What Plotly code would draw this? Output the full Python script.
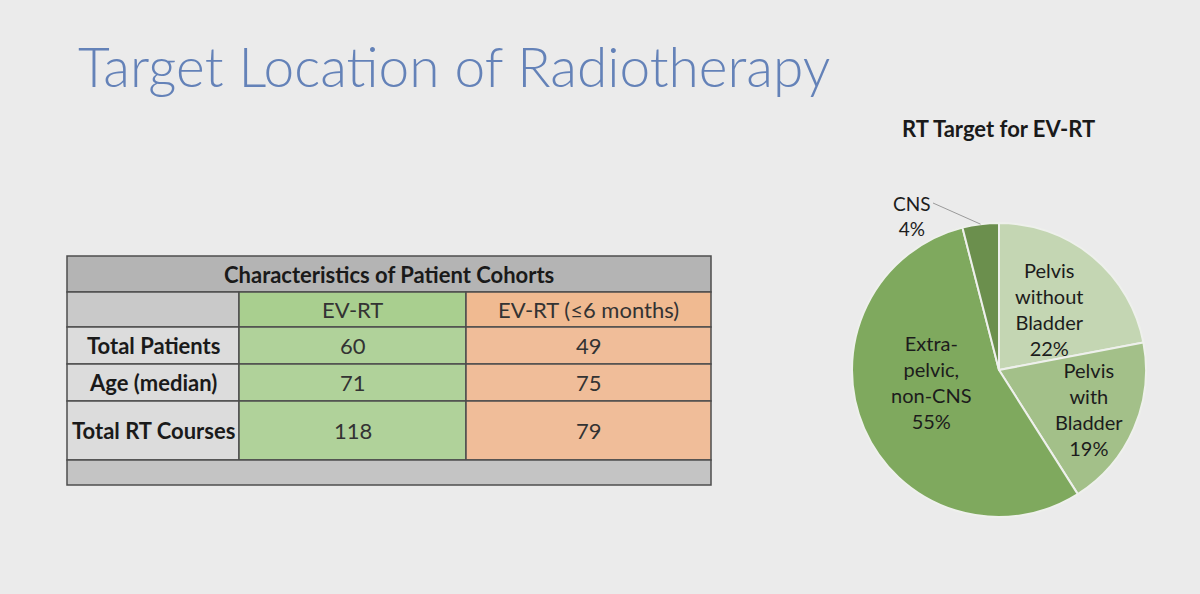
import math
import plotly.graph_objects as go

# ---------------- data ----------------
slide_title = "Target Location of Radiotherapy"
table_title = "Characteristics of Patient Cohorts"
col_headers = ["EV-RT", "EV-RT (≤6 months)"]
row_labels = ["Total Patients", "Age (median)", "Total RT Courses"]
ev_rt = [60, 71, 118]
ev_rt_6m = [49, 75, 79]

pie_title = "RT Target for EV-RT"
pie_labels = ["Pelvis<br>without<br>Bladder", "Pelvis<br>with<br>Bladder",
              "Extra-<br>pelvic,<br>non-CNS", "CNS"]
pie_values = [22, 19, 55, 4]
pie_colors = ["#c4d6b3", "#a3c089", "#7fa95e", "#6b8f4d"]

W, H = 1200, 594
BG = "#ebebeb"
FONT = "Lato"


def px(x):
    return x / W


def py(y):
    return 1 - y / H


fig = go.Figure()

# ---------------- pie ----------------
pie_x0, pie_x1, pie_y0, pie_y1 = 852, 1146, 223, 517
fig.add_trace(go.Pie(
    labels=pie_labels, values=pie_values, sort=False, direction="clockwise",
    rotation=0, marker=dict(colors=pie_colors, line=dict(color="#eef0ec", width=2)),
    textinfo="none",
    domain=dict(x=[px(pie_x0), px(pie_x1)], y=[py(pie_y1), py(pie_y0)]),
    showlegend=False, hoverinfo="label+percent",
))

# slice labels placed from slice geometry
cx, cy = (pie_x0 + pie_x1) / 2, (pie_y0 + pie_y1) / 2
r = (pie_x1 - pie_x0) / 2
total = sum(pie_values)
label_radius = [0.54, 0.67, 0.47]   # fraction of radius for inside labels
label_shift = [0, 0, 13]            # extra angle (deg) for readability
cum = 0
for i, v in enumerate(pie_values):
    frac = v / total
    mid = (cum + frac / 2) * 2 * math.pi
    cum += frac
    pct = round(100 * frac)
    if i < 3:
        a = mid + math.radians(label_shift[i])
        lx = cx + label_radius[i] * r * math.sin(a)
        ly = cy - label_radius[i] * r * math.cos(a)
        fig.add_annotation(x=px(lx), y=py(ly), xref="paper", yref="paper",
                           xanchor="center", yanchor="middle", showarrow=False,
                           text=f"{pie_labels[i]}<br>{pct}%",
                           font=dict(family=FONT, size=20, color="#1c1c1c"))
    else:
        ex, ey = cx + r * math.sin(mid), cy - r * math.cos(mid)
        fig.add_annotation(x=px(912), y=py(216), xref="paper", yref="paper",
                           xanchor="center", yanchor="middle",
                           text=f"{pie_labels[i]}<br>{pct}%", showarrow=False,
                           font=dict(family=FONT, size=19, color="#1c1c1c"))
        fig.add_shape(type="line", xref="paper", yref="paper",
                      x0=px(933), y0=py(203), x1=px(ex), y1=py(ey),
                      line=dict(color="#9a9a9a", width=1))

fig.add_annotation(x=px(998), y=py(128), xref="paper", yref="paper",
                   xanchor="center", yanchor="middle",
                   text=f"<b>{pie_title}</b>", showarrow=False,
                   font=dict(family=FONT, size=22, color="#1a1a1a"))

# ---------------- slide title ----------------
fig.add_annotation(x=px(76), y=py(66), xref="paper", yref="paper",
                   xanchor="left", yanchor="middle",
                   text=slide_title, showarrow=False,
                   font=dict(family=FONT, size=55, color="#6482b8", weight=300))

# ---------------- table ----------------
col_x = [67, 239, 466, 711]
row_y = [256, 292, 327, 364, 401, 460, 485]
line_c = "#4d4d4d"


def rect(x0, y0, x1, y1, fill):
    fig.add_shape(type="rect", xref="paper", yref="paper",
                  x0=px(x0), x1=px(x1), y0=py(y1), y1=py(y0),
                  fillcolor=fill, line=dict(color=line_c, width=1.5), layer="below")


def txt(x, y, s, bold=False, size=22, color="#262626"):
    fig.add_annotation(x=px(x), y=py(y), xref="paper", yref="paper", text=s,
                       xanchor="center", yanchor="middle", showarrow=False,
                       font=dict(family=FONT, size=size, color=color,
                                 weight=700 if bold else 400))


# title row
rect(col_x[0], row_y[0], col_x[3], row_y[1], "#b4b4b4")
txt((col_x[0] + col_x[3]) / 2, (row_y[0] + row_y[1]) / 2, table_title, bold=True, color="#1a1a1a")
# header row
rect(col_x[0], row_y[1], col_x[1], row_y[2], "#c9c9c9")
rect(col_x[1], row_y[1], col_x[2], row_y[2], "#a9cf8f")
rect(col_x[2], row_y[1], col_x[3], row_y[2], "#f0ba91")
for j, h in enumerate(col_headers):
    txt((col_x[j + 1] + col_x[j + 2]) / 2, (row_y[1] + row_y[2]) / 2, h, color="#333333")
# body rows
for i, lab in enumerate(row_labels):
    y0, y1 = row_y[2 + i], row_y[3 + i]
    rect(col_x[0], y0, col_x[1], y1, "#dcdcdc")
    rect(col_x[1], y0, col_x[2], y1, "#b0d29a")
    rect(col_x[2], y0, col_x[3], y1, "#f0bd99")
    yc = (y0 + y1) / 2
    txt((col_x[0] + col_x[1]) / 2, yc, lab, bold=True, color="#1a1a1a")
    txt((col_x[1] + col_x[2]) / 2, yc, str(ev_rt[i]), color="#333333")
    txt((col_x[2] + col_x[3]) / 2, yc, str(ev_rt_6m[i]), color="#333333")
# bottom empty row
rect(col_x[0], row_y[5], col_x[3], row_y[6], "#c4c4c4")

fig.update_layout(
    width=W, height=H, margin=dict(l=0, r=0, t=0, b=0),
    paper_bgcolor=BG, plot_bgcolor=BG,
    xaxis=dict(visible=False), yaxis=dict(visible=False),
)

fig.write_html("out.html")
